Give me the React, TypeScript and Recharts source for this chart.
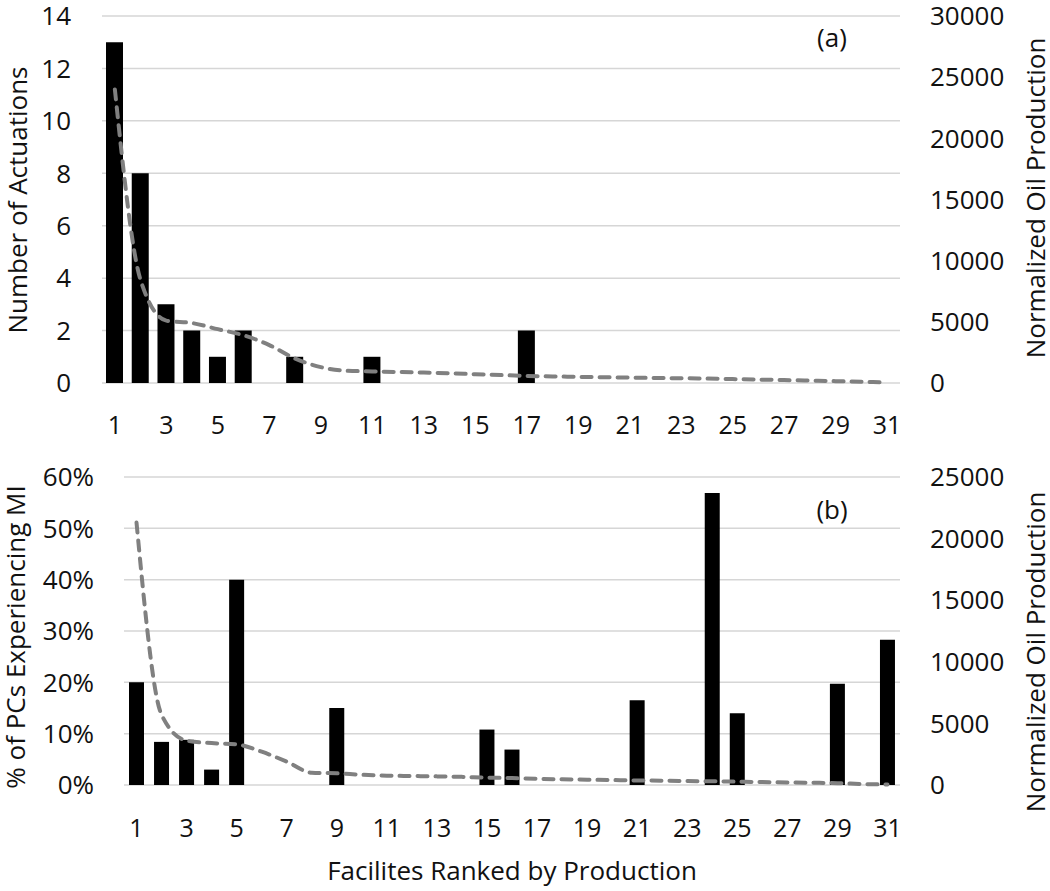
import { ComposedChart, Bar, Line, XAxis, YAxis, CartesianGrid } from 'recharts';

// facilities ranked by production, 1..31
const facilities = [
  '1', '2', '3', '4', '5', '6', '7', '8', '9', '10', '11', '12', '13', '14', '15', '16',
  '17', '18', '19', '20', '21', '22', '23', '24', '25', '26', '27', '28', '29', '30', '31'
];

// panel (a)
const actuations = [13, 8, 3, 2, 1, 2, 0, 1, 0, 0, 1, 0, 0, 0, 0, 0, 2, 0, 0, 0, 0, 0, 0, 0, 0, 0, 0, 0, 0, 0, 0];
const productionA = [
  24000, 8400, 5100, 4900, 4400, 3900, 3100, 2000, 1300, 1000, 950, 900, 850, 800, 720, 650,
  580, 540, 500, 470, 440, 410, 390, 360, 320, 280, 240, 200, 150, 100, 50
];
const actuationTicks = [0, 2, 4, 6, 8, 10, 12, 14];
const productionTicksA = [0, 5000, 10000, 15000, 20000, 25000, 30000];

// panel (b)
const miShare = [
  0.2, 0.084, 0.088, 0.03, 0.4, 0, 0, 0, 0.15, 0, 0, 0, 0, 0, 0.108, 0.069,
  0, 0, 0, 0, 0.165, 0, 0, 0.569, 0.14, 0, 0, 0, 0.197, 0, 0.283
];
const productionB = [
  21300, 5700, 3600, 3400, 3300, 2700, 1900, 1000, 950, 830, 760, 730, 700, 660, 600, 560,
  500, 460, 430, 400, 370, 350, 320, 300, 270, 240, 210, 180, 150, 80, 40
];
const miTicks = [0, 0.1, 0.2, 0.3, 0.4, 0.5, 0.6];
const productionTicksB = [0, 5000, 10000, 15000, 20000, 25000];

const FONT = "'Open Sans', sans-serif";
const tick = { fontSize: 26, fill: '#111', fontFamily: FONT };
const xTick = { fontSize: 25, fill: '#111', fontFamily: FONT };
const GRID = '#d6d6d6';
const LINE = '#808080';

export default function App() {
  const dataA = facilities.map((f, i) => ({ facility: f, actuations: actuations[i], production: productionA[i] }));
  const dataB = facilities.map((f, i) => ({ facility: f, share: miShare[i], production: productionB[i] }));

  return <div style={{ position: 'absolute', left: 0, top: 0, width: 1050, height: 891, background: '#fff', fontFamily: FONT }}>
      <ComposedChart width={1050} height={445} data={dataA} margin={{
      top: 16,
      right: 0,
      left: 0,
      bottom: 0
    }}>
        <CartesianGrid yAxisId="left" vertical={false} stroke={GRID} strokeWidth={1.5} />
        <XAxis dataKey="facility" interval={1} height={62} tick={xTick} tickLine={false} axisLine={false} tickSize={0} tickMargin={33} />
        <YAxis yAxisId="left" width={102} domain={[0, 14]} ticks={actuationTicks} tick={tick} tickLine={false} axisLine={false} tickSize={0} tickMargin={31} />
        <YAxis yAxisId="right" orientation="right" width={150} domain={[0, 30000]} ticks={productionTicksA} tick={tick} tickLine={false} axisLine={false} tickSize={0} tickMargin={30} />
        <Bar yAxisId="left" dataKey="actuations" fill="#000" barSize={17} isAnimationActive={false} />
        <Line yAxisId="right" dataKey="production" type="monotone" stroke={LINE} strokeWidth={4} strokeDasharray="10 8" strokeLinecap="round" dot={false} isAnimationActive={false} />
      </ComposedChart>
      <ComposedChart width={1050} height={446} data={dataB} margin={{
      top: 32,
      right: 0,
      left: 0,
      bottom: 0
    }}>
        <CartesianGrid yAxisId="left" vertical={false} stroke={GRID} strokeWidth={1.5} />
        <XAxis dataKey="facility" interval={1} height={106} tick={xTick} tickLine={false} axisLine={false} tickSize={0} tickMargin={34} />
        <YAxis yAxisId="left" width={124} domain={[0, 0.6]} ticks={miTicks} tickFormatter={v => `${Math.round(v * 100)}%`} tick={tick} tickLine={false} axisLine={false} tickSize={0} tickMargin={30} />
        <YAxis yAxisId="right" orientation="right" width={150} domain={[0, 25000]} ticks={productionTicksB} tick={tick} tickLine={false} axisLine={false} tickSize={0} tickMargin={30} />
        <Bar yAxisId="left" dataKey="share" fill="#000" barSize={15} isAnimationActive={false} />
        <Line yAxisId="right" dataKey="production" type="monotone" stroke={LINE} strokeWidth={4} strokeDasharray="10 8" strokeLinecap="round" dot={false} isAnimationActive={false} />
      </ComposedChart>
      <svg width={1050} height={891} style={{ position: 'absolute', left: 0, top: 0, pointerEvents: 'none' }}>
        <g fontFamily={FONT} fontSize={26} fill="#111">
          <text x={832} y={47} textAnchor="middle">(a)</text>
          <text x={832} y={519} textAnchor="middle">(b)</text>
          <text transform="translate(27,200) rotate(-90)" textAnchor="middle">Number of Actuations</text>
          <text transform="translate(25,637) rotate(-90)" textAnchor="middle">% of PCs Experiencing MI</text>
          <text transform="translate(1045,198) rotate(-90)" textAnchor="middle">Normalized Oil Production</text>
          <text transform="translate(1045,652) rotate(-90)" textAnchor="middle">Normalized Oil Production</text>
          <text x={512} y={880} textAnchor="middle">Facilites Ranked by Production</text>
        </g>
      </svg>
    </div>;
}
